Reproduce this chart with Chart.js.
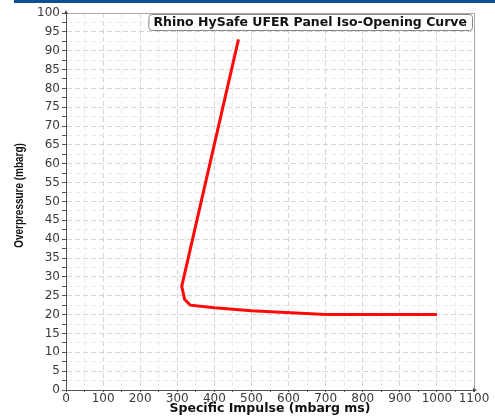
<!DOCTYPE html>
<html>
<head>
<meta charset="utf-8">
<script src="https://cdn.jsdelivr.net/npm/chart.js@4/dist/chart.umd.min.js"></script>
<style>
  body { margin: 0; background: #fff; }
  #wrap { position: relative; width: 495px; height: 417px; }
  #bar { position: absolute; left: 14px; top: 0; width: 481px; height: 3px; background: #0b4f96; z-index: 2; }
</style>
</head>
<body>
<div id="wrap">
  <div id="bar"></div>
  <canvas id="myChart"></canvas>
</div>
<script>
// curve
var impulse = [465, 312, 320, 335, 400, 500, 700, 1000];
var overpressure = [93, 27.5, 24, 22.5, 21.8, 21, 20, 20];

var chartTitle = 'Rhino HySafe UFER Panel Iso-Opening Curve';
var xTitle = 'Specific Impulse (mbarg ms)';
var yTitle = 'Overpressure (mbarg)';

var pts = [];
for (var i = 0; i < impulse.length; i++) {
  pts.push({x: impulse[i], y: overpressure[i]});
}

// frame, little arrows, boxed title and the narrow y title
var boxPlugin = {
  id: 'boxPlugin',
  beforeDatasetsDraw: function(chart) {
    var ctx = chart.ctx, a = chart.chartArea;
    ctx.save();
    ctx.strokeStyle = '#a8a8a8';
    ctx.lineWidth = 1;
    ctx.beginPath();
    ctx.moveTo(a.left, a.top + 0.5);
    ctx.lineTo(a.right + 0.5, a.top + 0.5);
    ctx.lineTo(a.right + 0.5, a.bottom);
    ctx.stroke();
    ctx.restore();
  },
  afterDraw: function(chart) {
    var ctx = chart.ctx, a = chart.chartArea;
    ctx.save();
    // arrows at axis ends
    ctx.fillStyle = '#444';
    ctx.beginPath();
    ctx.moveTo(a.left, a.top - 3);
    ctx.lineTo(a.left - 2, a.top + 1);
    ctx.lineTo(a.left + 2, a.top + 1);
    ctx.fill();
    ctx.beginPath();
    ctx.moveTo(a.right + 3, a.bottom);
    ctx.lineTo(a.right - 1, a.bottom - 2);
    ctx.lineTo(a.right - 1, a.bottom + 2);
    ctx.fill();

    ctx.font = 'bold 12.5px "DejaVu Sans"';
    var w = ctx.measureText(chartTitle).width;
    var bx = a.right - 2 - w - 10, by = a.top + 1, bw = w + 10, bh = 16;
    ctx.fillStyle = '#fff';
    ctx.strokeStyle = '#888';
    ctx.lineWidth = 1;
    ctx.beginPath();
    ctx.roundRect(bx + 0.5, by + 0.5, bw, bh, 3);
    ctx.fill();
    ctx.stroke();
    ctx.fillStyle = '#111';
    ctx.textBaseline = 'middle';
    ctx.fillText(chartTitle, bx + 5, by + bh / 2 + 1);

    // y title, condensed
    ctx.translate(20, (a.top + a.bottom) / 2 - 6);
    ctx.rotate(-Math.PI / 2);
    ctx.scale(0.83, 1);
    ctx.font = 'bold 12px "Liberation Sans", Arial, sans-serif';
    ctx.textAlign = 'center';
    ctx.textBaseline = 'middle';
    ctx.fillText(yTitle, 0, 0);
    ctx.restore();
  }
};

var tickFont = {family: '"DejaVu Sans", sans-serif', size: 12};

var config = {
  type: 'scatter',
  data: {
    datasets: [{
      data: pts,
      showLine: true,
      borderColor: '#ff0a0a',
      borderWidth: 3,
      pointRadius: 0,
      tension: 0
    }]
  },
  options: {
    responsive: true,
    maintainAspectRatio: false,
    animation: false,
    layout: {padding: {top: 13, right: 21, left: 0, bottom: 0}},
    plugins: {legend: {display: false}, tooltip: {enabled: false}},
    scales: {
      x: {
        type: 'linear',
        min: 0, max: 1100,
        afterFit: function(s) { s.height = 27; },
        ticks: {
          stepSize: 50, autoSkip: false, maxRotation: 0, padding: 0,
          color: '#3a3a3a', font: tickFont,
          callback: function(v) { return v % 100 === 0 ? v : ''; }
        },
        grid: {
          color: function(c) { return c.tick && c.tick.value % 100 === 0 ? '#d6d6d6' : '#ebebeb'; },
          tickLength: 2, tickColor: '#555'
        },
        border: {color: '#555', width: 1, dash: [5, 3]},
        title: {
          display: true, text: xTitle, color: '#111',
          font: {family: '"DejaVu Sans"', size: 12.5, weight: 'bold'},
          padding: {top: 0, bottom: 1}
        }
      },
      y: {
        type: 'linear',
        min: 0, max: 100,
        afterFit: function(s) { s.width = 66; },
        ticks: {
          stepSize: 2.5, autoSkip: false, padding: 2,
          color: '#3a3a3a', font: tickFont,
          callback: function(v) { return v % 5 === 0 ? v : ''; }
        },
        grid: {
          color: function(c) { return c.tick && c.tick.value % 5 === 0 ? '#d6d6d6' : '#ebebeb'; },
          tickLength: 4, tickColor: '#555'
        },
        border: {color: '#555', width: 1, dash: [5, 3]}
      }
    }
  },
  plugins: [boxPlugin]
};

var myChart = new Chart(document.getElementById('myChart'), config);
</script>
</body>
</html>
